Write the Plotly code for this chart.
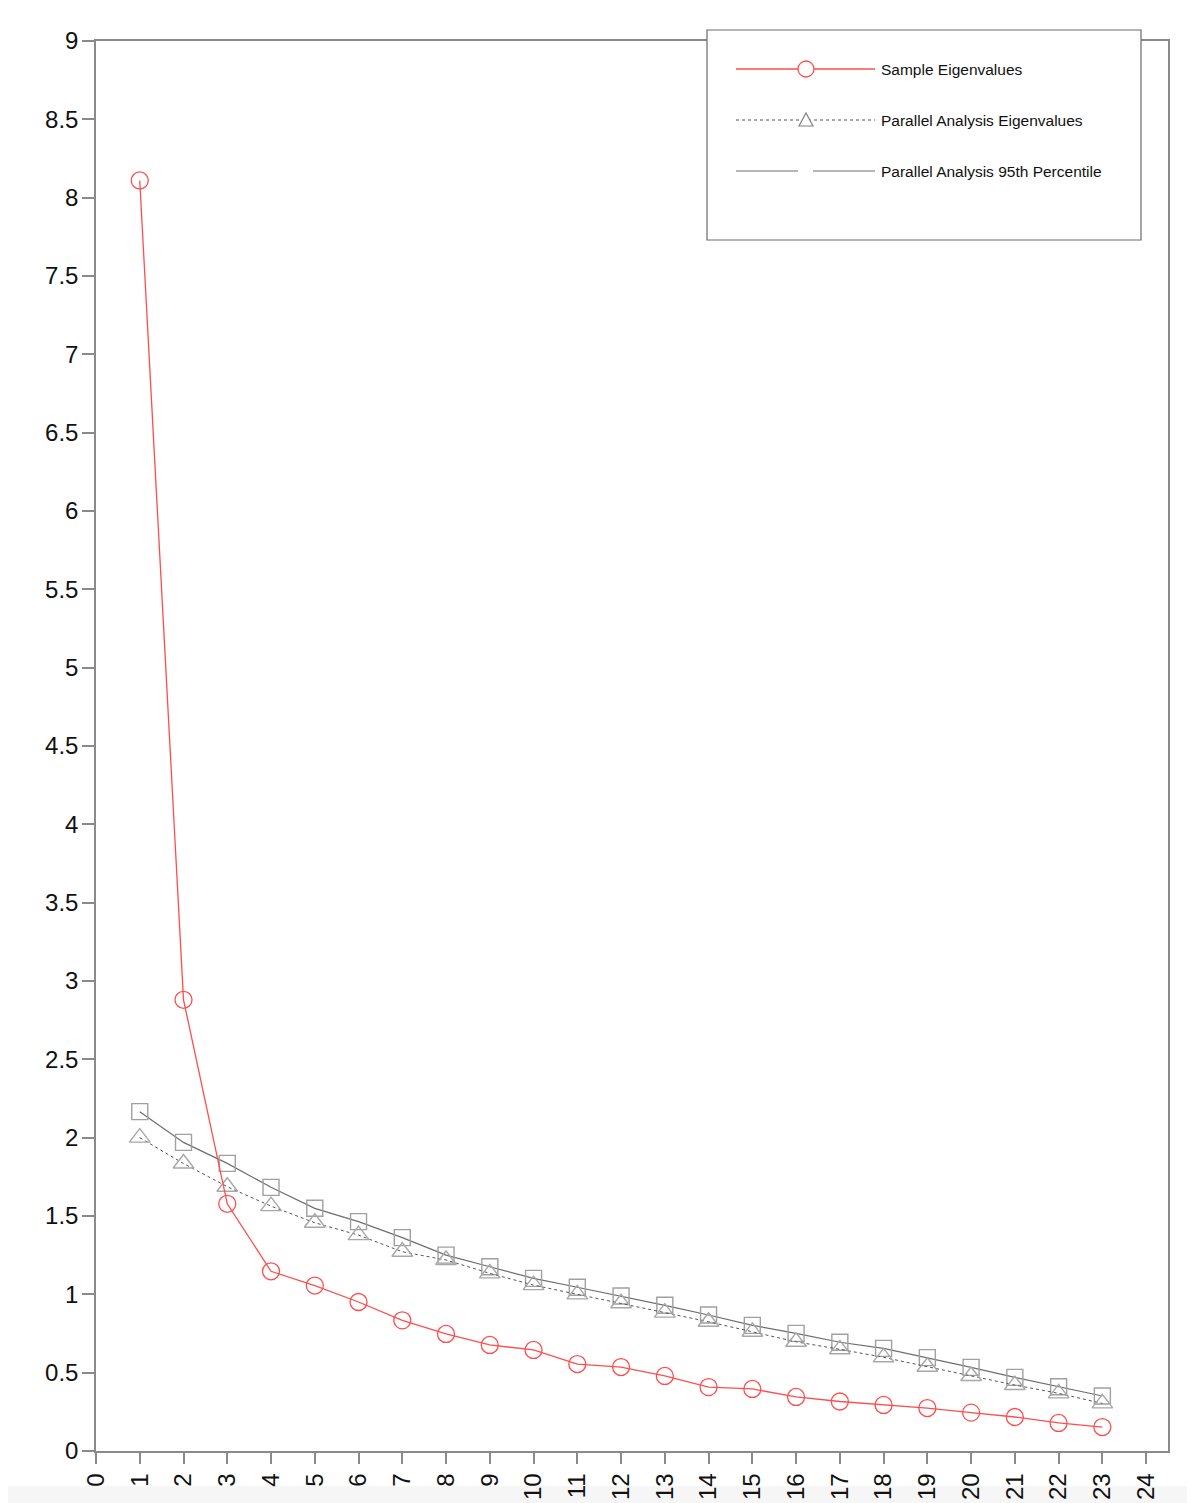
import plotly.graph_objects as go

components = list(range(1, 24))
sample_eigen = [8.11, 2.88, 1.578, 1.147, 1.056, 0.951, 0.834, 0.747, 0.677, 0.645,
                0.555, 0.536, 0.479, 0.408, 0.396, 0.345, 0.316, 0.294, 0.274, 0.245,
                0.217, 0.179, 0.153]
pa_eigen = [2.00, 1.835, 1.687, 1.563, 1.457, 1.378, 1.272, 1.219, 1.134, 1.059,
            1.000, 0.943, 0.883, 0.825, 0.761, 0.697, 0.649, 0.598, 0.538, 0.479,
            0.421, 0.368, 0.304]
pa_95 = [2.166, 1.97, 1.836, 1.683, 1.549, 1.464, 1.362, 1.250, 1.176, 1.102,
         1.045, 0.989, 0.930, 0.868, 0.802, 0.751, 0.694, 0.655, 0.596, 0.534,
         0.470, 0.410, 0.351]
legend_labels = ["Sample Eigenvalues", "Parallel Analysis Eigenvalues",
                 "Parallel Analysis 95th Percentile"]

OFF = 8  # default body margin of the html page
W, H = 1195 - OFF, 1503 - OFF
L, R, T, B = 96 - OFF, 1168 - OFF, 41 - OFF, 1451 - OFF
FONT = "Liberation Sans, Arial, sans-serif"

fig = go.Figure()
fig.add_trace(go.Scatter(
    x=components, y=pa_95, mode="lines+markers", name=legend_labels[2],
    line=dict(color="#6e6e6e", width=1.2),
    marker=dict(symbol="square-open", size=16, color="#a0a0a0", line=dict(width=1.4))))
fig.add_trace(go.Scatter(
    x=components, y=pa_eigen, mode="lines+markers", name=legend_labels[1],
    line=dict(color="#555555", width=1, dash="dot"),
    marker=dict(symbol="triangle-up-open", size=18, color="#a8a8a8", line=dict(width=1.4))))
fig.add_trace(go.Scatter(
    x=components, y=sample_eigen, mode="lines+markers", name=legend_labels[0],
    line=dict(color="#ff4d4d", width=1.3),
    marker=dict(symbol="circle-open", size=17, color="#ff4d4d", line=dict(width=1.3))))


def px(x):
    return (x - OFF - L) / (R - L)


def py(y):
    return (B - (y - OFF)) / (B - T)


shapes = []
annotations = []
# light strip at the very bottom of the page
shapes.append(dict(type="rect", xref="paper", yref="paper",
                   x0=px(0), x1=px(1195), y0=py(1503), y1=py(1486),
                   line=dict(width=0), fillcolor="#f6f6f6", layer="below"))
# legend box
shapes.append(dict(type="rect", xref="paper", yref="paper",
                   x0=px(707), x1=px(1141), y0=py(240), y1=py(30),
                   line=dict(color="#6a6a6a", width=1.2), fillcolor="white", layer="above"))
rows = [69, 120, 171]
# row 1: red line with circle
shapes.append(dict(type="line", xref="paper", yref="paper", x0=px(736), x1=px(875),
                   y0=py(rows[0]), y1=py(rows[0]), line=dict(color="#ff4d4d", width=1.3), layer="above"))
shapes.append(dict(type="circle", xref="paper", yref="paper", xsizemode="pixel", ysizemode="pixel",
                   xanchor=px(806), yanchor=py(rows[0]), x0=-8, x1=8, y0=-8, y1=8,
                   line=dict(color="#ff4d4d", width=1.3), fillcolor="white", layer="above"))
# row 2: dotted line with triangle
shapes.append(dict(type="line", xref="paper", yref="paper", x0=px(736), x1=px(875),
                   y0=py(rows[1]), y1=py(rows[1]), line=dict(color="#555555", width=1, dash="dot"), layer="above"))
shapes.append(dict(type="path", xref="paper", yref="paper", xsizemode="pixel", ysizemode="pixel",
                   xanchor=px(806), yanchor=py(rows[1]),
                   path="M-7,-6 L7,-6 L0,7 Z",
                   line=dict(color="#808080", width=1.2), fillcolor="white", layer="above"))
# row 3: solid line with gap
shapes.append(dict(type="line", xref="paper", yref="paper", x0=px(736), x1=px(798),
                   y0=py(rows[2]), y1=py(rows[2]), line=dict(color="#6e6e6e", width=1.2), layer="above"))
shapes.append(dict(type="line", xref="paper", yref="paper", x0=px(813), x1=px(875),
                   y0=py(rows[2]), y1=py(rows[2]), line=dict(color="#6e6e6e", width=1.2), layer="above"))
for lab, r in zip(legend_labels, rows):
    annotations.append(dict(xref="paper", yref="paper", x=px(879), y=py(r), text=lab,
                            showarrow=False, xanchor="left", yanchor="middle",
                            font=dict(family=FONT, size=15.5, color="#111111")))

fig.update_layout(
    width=W, height=H,
    margin=dict(l=L, r=W - R, t=T, b=H - B),
    paper_bgcolor="white", plot_bgcolor="white",
    showlegend=False,
    shapes=shapes, annotations=annotations,
    font=dict(family=FONT, color="#111111"),
)
fig.update_xaxes(range=[0, 24.5], tickmode="linear", tick0=0, dtick=1, automargin=False,
                 showgrid=False, zeroline=False, showline=True, mirror=True,
                 linecolor="#8a8a8a", linewidth=1.5, ticks="outside", ticklen=11,
                 tickcolor="#8a8a8a", tickwidth=1.5, tickangle=-90, ticklabelstandoff=0,
                 tickfont=dict(size=24, family=FONT, color="#111111"))
fig.update_yaxes(range=[0, 9], tickmode="linear", tick0=0, dtick=0.5, automargin=False,
                 showgrid=False, zeroline=False, showline=True, mirror=True,
                 linecolor="#8a8a8a", linewidth=1.5, ticks="outside", ticklen=12,
                 tickcolor="#8a8a8a", tickwidth=1.5, ticklabelstandoff=-1,
                 tickfont=dict(size=24, family=FONT, color="#111111"))

fig.write_html("out.html")
